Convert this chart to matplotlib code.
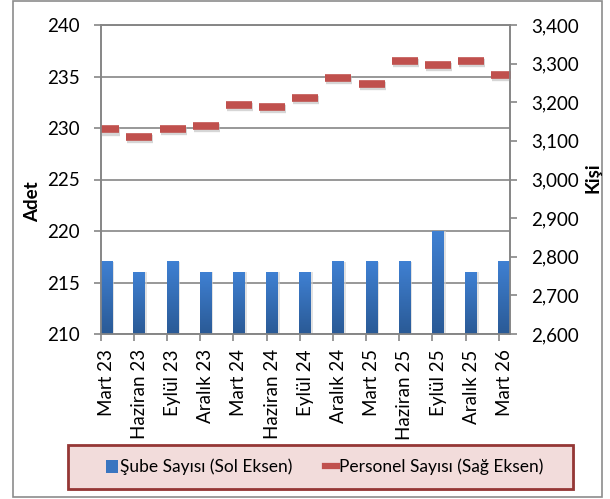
import matplotlib
matplotlib.use('Agg')
import matplotlib.pyplot as plt
from matplotlib.patches import Rectangle
from matplotlib.lines import Line2D
from matplotlib.ticker import FuncFormatter, FixedLocator
import numpy as np

plt.rcParams['font.family'] = ['Lato', 'DejaVu Sans']

# data
donemler = ['Mart 23', 'Haziran 23', 'Eylül 23', 'Aralık 23', 'Mart 24',
            'Haziran 24', 'Eylül 24', 'Aralık 24', 'Mart 25', 'Haziran 25',
            'Eylül 25', 'Aralık 25', 'Mart 26']
sube_sayisi = [217, 216, 217, 216, 216, 216, 216, 217, 217, 217, 220, 216, 217]
personel_sayisi = [3130, 3110, 3131, 3139, 3193, 3188, 3212, 3264, 3247,
                   3307, 3297, 3307, 3271]

grid_col = '#868686'
bar_top = '#3f80d2'
bar_bot = '#2a5a96'
red = '#c0504d'

fig = plt.figure(figsize=(6.10, 4.99), dpi=100)
ax = fig.add_axes([100.7/610, 1-334/499, (510-100.7)/610, (334-25)/499])
ax2 = ax.twinx()

x = np.arange(len(donemler))
off = 0.166

# bars with a vertical gradient
bars = ax.bar(x, sube_sayisi, width=0.36, bottom=0, color='none',
              edgecolor='none', zorder=2)
grad = np.linspace(1, 0, 64).reshape(-1, 1)
cmap = matplotlib.colors.LinearSegmentedColormap.from_list('g', [bar_bot, bar_top])
for b in bars:
    x0 = b.get_x()
    w = b.get_width()
    h = b.get_height()
    ax.imshow(grad, extent=[x0, x0 + w, 210, h], aspect='auto',
              cmap=cmap, zorder=3, origin='upper')
    # soft shadow to the right
    ax.add_patch(Rectangle((x0 + w, 210), 0.05, h - 210, color='#d0d0d0',
                           alpha=0.6, zorder=1, lw=0))

ax.set_xlim(-off, len(donemler) - 1 + 0.17)
ax.set_ylim(210, 240)
ax.set_yticks(np.arange(210, 241, 5))
ax.yaxis.grid(True, color=grid_col, lw=1.2, zorder=0)
ax.set_axisbelow(True)
ax.set_xticks(x)
ax.set_xticklabels(donemler, rotation=90, fontsize=13.5)
ax.xaxis.set_minor_locator(FixedLocator(x - off))
ax.tick_params(axis='x', which='major', length=0, pad=11)
ax.tick_params(axis='x', which='minor', length=5, width=1.2, color=grid_col)
ax.tick_params(axis='y', length=5, width=1.2, color=grid_col, labelsize=13.5, pad=10)
for s in ax.spines.values():
    s.set_color(grid_col)
    s.set_linewidth(1.2)

# personnel markers on the right axis
ax2.plot(x + 0.03, np.array(personel_sayisi) - 6, linestyle='none', marker='_',
         markersize=19, mew=6, color='#bbbbbb', alpha=0.6, zorder=1)
ax2.plot(x, personel_sayisi, linestyle='none', marker='_', markersize=19,
         mew=5.5, color=red, zorder=2)
ax2.set_ylim(2600, 3400)
ax2.set_yticks(np.arange(2600, 3401, 100))
ax2.yaxis.set_major_formatter(FuncFormatter(lambda v, p: f'{int(v):,}'))
ax2.tick_params(axis='y', length=5, width=1.2, color=grid_col, labelsize=13.5, pad=10)
for s in ax2.spines.values():
    s.set_color(grid_col)
    s.set_linewidth(1.2)

fig.text(33/610, 1-202/499, 'Adet', rotation=90, fontsize=13.5,
         fontweight='bold', ha='center', va='center')
fig.text(593/610, 1-178/499, 'Kişi', rotation=90, fontsize=13.5,
         fontweight='bold', ha='center', va='center')

# legend box
fig.patches.append(Rectangle((70/610, 1-491/499), 505/610, 44/499,
                             transform=fig.transFigure, facecolor='#bbbbbb',
                             edgecolor='none', alpha=0.5, zorder=0))
fig.patches.append(Rectangle((68/610, 1-489/499), 505/610, 44/499,
                             transform=fig.transFigure, facecolor='#f2dcdb',
                             edgecolor='#953735', lw=2, zorder=1))
handles = [Rectangle((0, 0), 1, 1, facecolor='#3a75c0', edgecolor='none'),
           Line2D([], [], color=red, lw=4.5)]
fig.legend(handles, ['Şube Sayısı (Sol Eksen)', 'Personel Sayısı (Sağ Eksen)'],
           loc='center', bbox_to_anchor=(325/610, 1-467/499), ncol=2,
           frameon=False, fontsize=12.5, handlelength=0.65, handleheight=0.75,
           handletextpad=0.15, columnspacing=1.9)

# outer border
fig.patches.append(Rectangle((13/610, 2/499), 589/610, 496/499,
                             transform=fig.transFigure, facecolor='none',
                             edgecolor='#8c8c8c', lw=1.2))

fig.savefig('out.png', dpi=100)
